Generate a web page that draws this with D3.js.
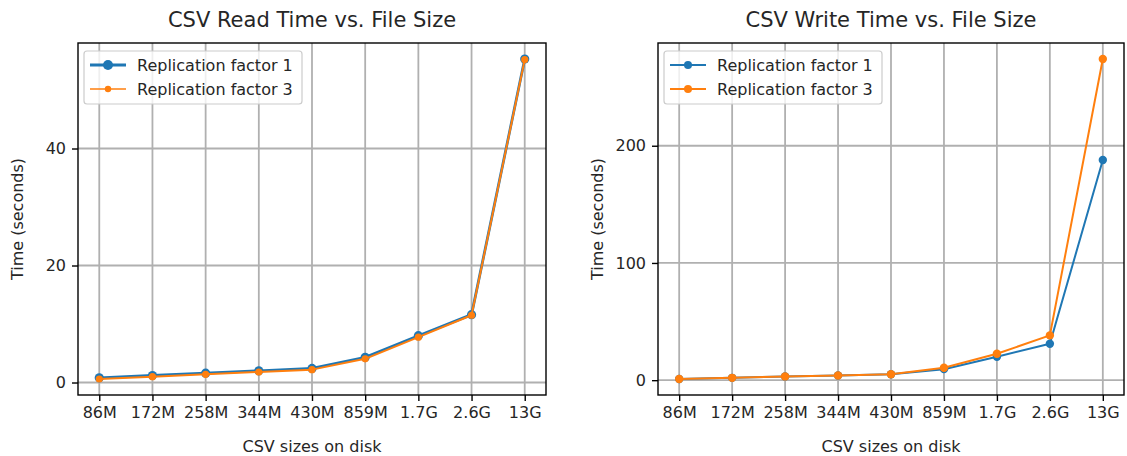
<!DOCTYPE html>
<html>
<head>
<meta charset="utf-8">
<script src="https://cdn.jsdelivr.net/npm/d3@7"></script>
<style>
  html, body { margin: 0; padding: 0; background: #fff; }
  svg text { font-family: "DejaVu Sans", sans-serif; fill: #262626; }
</style>
</head>
<body>
<svg id="chart" width="1127" height="456"></svg>
<script>
// File sizes on disk (x categories)
const sizes = ["86M", "172M", "258M", "344M", "430M", "859M", "1.7G", "2.6G", "13G"];

// Read times in seconds
const readRep1 = [0.8, 1.2, 1.6, 2.0, 2.4, 4.3, 8.0, 11.6, 55.3];
const readRep3 = [0.6, 1.0, 1.4, 1.8, 2.2, 4.05, 7.75, 11.5, 55.2];

// Write times in seconds
const writeRep1 = [1.0, 2.0, 3.2, 4.0, 5.1, 9.4, 20.0, 31.1, 187.8];
const writeRep3 = [1.0, 2.0, 3.2, 4.0, 5.1, 10.6, 22.5, 38.2, 274.0];

// Y tick values
const readTicks = [0, 20, 40];
const writeTicks = [0, 100, 200];

const seriesNames = ["Replication factor 1", "Replication factor 3"];
const blue = "#1f77b4", orange = "#ff7f0e";

const svg = d3.select("#chart");
const FS = 16;

function panel(opts) {
  const { left, right, top, bottom, title, s1, s2, ticks, thick1 } = opts;
  const g = svg.append("g");

  const x = d3.scalePoint().domain(sizes).range([left, right]).padding(0.4);
  const all = s1.concat(s2);
  const lo = d3.min(all), hi = d3.max(all), pad = (hi - lo) * 0.05;
  const y = d3.scaleLinear().domain([lo - pad, hi + pad]).range([bottom, top]);

  // grid
  const grid = g.append("g").attr("stroke", "#b0b0b0").attr("stroke-width", 1.8);
  sizes.forEach(s => grid.append("line")
    .attr("x1", x(s)).attr("x2", x(s)).attr("y1", top).attr("y2", bottom));
  ticks.forEach(t => grid.append("line")
    .attr("x1", left).attr("x2", right).attr("y1", y(t)).attr("y2", y(t)));

  // series
  const line = d3.line().x((d, i) => x(sizes[i])).y(d => y(d));
  const draw = (data, color, lw, r) => {
    g.append("path").datum(data).attr("d", line)
      .attr("fill", "none").attr("stroke", color).attr("stroke-width", lw)
      .attr("stroke-linejoin", "round");
    g.selectAll(null).data(data).enter().append("circle")
      .attr("cx", (d, i) => x(sizes[i])).attr("cy", d => y(d))
      .attr("r", r).attr("fill", color);
  };
  draw(s1, blue, thick1 ? 2.8 : 2.0, thick1 ? 4.6 : 4.2);
  draw(s2, orange, 2.0, thick1 ? 3.6 : 4.2);

  // frame
  g.append("rect").attr("x", left).attr("y", top)
    .attr("width", right - left).attr("height", bottom - top)
    .attr("fill", "none").attr("stroke", "#000").attr("stroke-width", 1.4);

  // axes
  const xa = g.append("g").attr("transform", `translate(0,${bottom})`)
    .call(d3.axisBottom(x).tickSize(6).tickPadding(6).tickSizeOuter(0));
  xa.select(".domain").remove();
  xa.selectAll("line").attr("stroke", "#000").attr("stroke-width", 1.4);
  xa.selectAll("text").attr("font-size", FS).attr("fill", "#262626");

  const ya = g.append("g").attr("transform", `translate(${left},0)`)
    .call(d3.axisLeft(y).tickValues(ticks).tickSize(6).tickPadding(6).tickSizeOuter(0));
  ya.select(".domain").remove();
  ya.selectAll("line").attr("stroke", "#000").attr("stroke-width", 1.4);
  ya.selectAll("text").attr("font-size", FS).attr("fill", "#262626");

  // labels
  g.append("text").attr("x", (left + right) / 2).attr("y", 27)
    .attr("text-anchor", "middle").attr("font-size", 21).text(title);
  g.append("text").attr("x", (left + right) / 2).attr("y", 452)
    .attr("text-anchor", "middle").attr("font-size", FS).text("CSV sizes on disk");
  g.append("text")
    .attr("transform", `translate(${opts.ylabelX},${(top + bottom) / 2}) rotate(-90)`)
    .attr("text-anchor", "middle").attr("font-size", FS).text("Time (seconds)");

  // legend
  const lx = left + 6, ly = top + 8;
  const lg = g.append("g");
  lg.append("rect").attr("x", lx).attr("y", ly).attr("width", 218).attr("height", 53)
    .attr("rx", 3).attr("fill", "#fff").attr("fill-opacity", 0.8)
    .attr("stroke", "#cccccc").attr("stroke-width", 1.2);
  const entries = [
    { name: seriesNames[0], color: blue, lw: thick1 ? 3.0 : 2.0, r: thick1 ? 5 : 4 },
    { name: seriesNames[1], color: orange, lw: thick1 ? 1.6 : 2.0, r: thick1 ? 3.2 : 4 }
  ];
  entries.forEach((e, i) => {
    const cy = ly + 14 + i * 24;
    lg.append("line").attr("x1", lx + 6).attr("x2", lx + 42).attr("y1", cy).attr("y2", cy)
      .attr("stroke", e.color).attr("stroke-width", e.lw);
    lg.append("circle").attr("cx", lx + 24).attr("cy", cy).attr("r", e.r).attr("fill", e.color);
    lg.append("text").attr("x", lx + 53).attr("y", cy + 5.5).attr("font-size", FS).text(e.name);
  });
}

panel({ left: 78, right: 546, top: 43, bottom: 395, title: "CSV Read Time vs. File Size",
        s1: readRep1, s2: readRep3, ticks: readTicks, thick1: true, ylabelX: 23 });
panel({ left: 658, right: 1124, top: 43, bottom: 395, title: "CSV Write Time vs. File Size",
        s1: writeRep1, s2: writeRep3, ticks: writeTicks, thick1: false, ylabelX: 603 });
</script>
</body>
</html>
